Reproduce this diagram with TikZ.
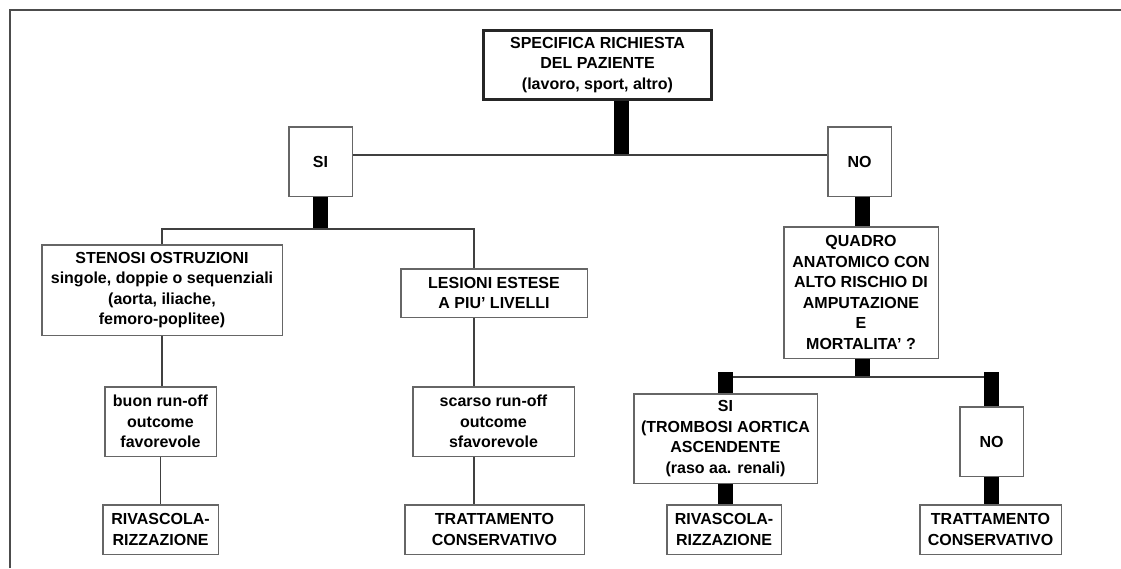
\documentclass[tikz,border=0pt]{standalone}
\usepackage{fontspec}
\setmainfont{Liberation Sans}
\usepackage{tikz}
\usetikzlibrary{positioning}

\begin{document}
\begin{tikzpicture}[x=1pt, y=-1pt]
    \tikzset{box/.style={draw=black!60, line width=1.5pt, fill=white, inner sep=0pt, align=center,
            font=\fontsize{16}{20.5}\selectfont\bfseries},
        link/.style={draw=black!75, line width=1.5pt},
        bar/.style={draw=black, line width=15pt}}
    \useasboundingbox (0,0) rectangle (1121,568);
    \draw[black!70, line width=1.5pt] (10,568) -- (10,10) -- (1121,10);

    \node[box, draw=black!85, line width=3pt, minimum width=228, minimum height=69] (req) at (597.5,65)
        {SPECIFICA RICHIESTA\\DEL PAZIENTE\\(lavoro, sport, altro)};
    \node[box, minimum width=63.5, minimum height=69.5] (si) at (320.5,161.5) {SI};
    \node[box, minimum width=63.5, minimum height=69.5] (no) at (859.5,161.5) {NO};
    \node[box, minimum width=240.5, minimum height=90.5] (sten) at (162,290)
        {STENOSI OSTRUZIONI\\singole, doppie o sequenziali\\(aorta, iliache,\\femoro-poplitee)};
    \node[box, minimum width=186.5, minimum height=48.5] (les) at (494,293)
        {LESIONI ESTESE\\A PIU' LIVELLI};
    \node[box, minimum width=111.5, minimum height=69.5] (buon) at (160.5,421.5)
        {buon run-off\\outcome\\favorevole};
    \node[box, minimum width=161.5, minimum height=69.5] (scarso) at (493.5,421.5)
        {scarso run-off\\outcome\\sfavorevole};
    \node[box, minimum width=115.5, minimum height=49.5] (riva1) at (160.5,529.5)
        {RIVASCOLA-\\RIZZAZIONE};
    \node[box, minimum width=179.5, minimum height=49.5] (cons1) at (494.5,529.5)
        {TRATTAMENTO\\CONSERVATIVO};
    \node[box, minimum width=154.5, minimum height=131.5] (quadro) at (861,292.5)
        {QUADRO\\ANATOMICO CON\\ALTO RISCHIO DI\\AMPUTAZIONE\\E\\MORTALITA' ?};
    \node[box, minimum width=183.5, minimum height=89.5] (siB) at (725.5,438.5)
        {SI\\(TROMBOSI AORTICA\\ASCENDENTE\\(raso aa. renali)};
    \node[box, minimum width=63.5, minimum height=69.5] (noB) at (991.5,441.5) {NO};
    \node[box, minimum width=114.5, minimum height=49.5] (riva2) at (724,529.5)
        {RIVASCOLA-\\RIZZAZIONE};
    \node[box, minimum width=141.5, minimum height=49.5] (cons2) at (990.5,529.5)
        {TRATTAMENTO\\CONSERVATIVO};

    \coordinate (jreq) at (621.5,155);
    \coordinate (jsr) at (474,229);
    \coordinate (jq) at (862.5,377);
    \coordinate (jqt) at (862.5,372);

    \draw[bar] (req.south -| jreq) -- (jreq);
    \draw[link] (si.east |- jreq) -- (no.west |- jreq);
    \draw[bar] (si.south) -- (si.south |- jsr);
    \draw[link] (sten.north) |- (jsr) -- (jsr |- les.north);
    \draw[link] (sten.south) -- (sten.south |- buon.north);
    \draw[link] (buon.south) -- (riva1.north);
    \draw[link] (les.south -| jsr) -- (scarso.north -| jsr);
    \draw[link] (scarso.south -| jsr) -- (cons1.north -| jsr);

    \draw[bar] (no.south -| jq) -- (quadro.north -| jq);
    \draw[bar] (quadro.south -| jq) -- (jq);
    \draw[link] (siB.north |- jq) -- (noB.north |- jq);
    \draw[bar] (siB.north |- jqt) -- (siB.north);
    \draw[bar] (noB.north |- jqt) -- (noB.north);
    \draw[bar] (siB.south) -- (siB.south |- riva2.north);
    \draw[bar] (noB.south) -- (noB.south |- cons2.north);
\end{tikzpicture}
\end{document}
